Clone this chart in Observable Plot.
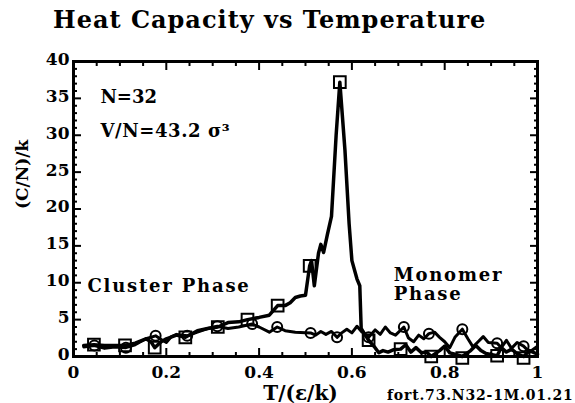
<!DOCTYPE html>
<html><head><meta charset="utf-8">
<script src="https://cdn.jsdelivr.net/npm/d3@7"></script>
<script src="https://cdn.jsdelivr.net/npm/@observablehq/plot@0.6"></script>
<style>
body{margin:0;background:#fff;width:575px;height:403px;overflow:hidden;position:relative;font-family:"DejaVu Serif",serif;}
#title{position:absolute;left:53px;top:8px;font-size:24px;font-weight:bold;line-height:24px;letter-spacing:1px;white-space:nowrap;color:#000;}
#chart{position:absolute;left:0;top:45px;}
</style></head><body>
<div id="title"></div>
<div id="chart"></div>
<script>
// ---- text ----
const titleText = "Heat Capacity vs Temperature";
const xTitle = "T/(ε/k)";
const yTitle = "(C/N)/k";
const captionText = "fort.73.N32-1M.01.21";

// ---- ticks ----
const xTicks = [0, 0.2, 0.4, 0.6, 0.8, 1];
const xTickLabels = ["0", "0.2", "0.4", "0.6", "0.8", "1"];
const xMinorTicks = [0.05,0.1,0.15,0.25,0.3,0.35,0.45,0.5,0.55,0.65,0.7,0.75,0.85,0.9,0.95];
const yTicks = [0, 5, 10, 15, 20, 25, 30, 35, 40];
const yTickLabels = ["0", "5", "10", "15", "20", "25", "30", "35", "40"];
const yMinorTicks = [1,2,3,4,6,7,8,9,11,12,13,14,16,17,18,19,21,22,23,24,26,27,28,29,31,32,33,34,36,37,38,39];

// ---- series 1 (squares) ----
const sqT = [0.022,0.044,0.067,0.089,0.111,0.133,0.156,0.167,0.175,0.189,0.2,0.222,0.241,0.267,0.289,0.311,0.333,0.356,0.375,0.4,0.422,0.44,0.456,0.467,0.478,0.489,0.5,0.506,0.509,0.513,0.519,0.528,0.533,0.539,0.547,0.556,0.566,0.574,0.585,0.594,0.6,0.611,0.617,0.62,0.628,0.636,0.65,0.658,0.667,0.678,0.689,0.705,0.716,0.727,0.738,0.75,0.761,0.771,0.789,0.8,0.811,0.822,0.838,0.856,0.867,0.878,0.889,0.913,0.922,0.933,0.944,0.956,0.97,0.983,1.0];
const sqC = [1.5,1.6,1.5,1.5,1.5,1.8,2.4,2.0,1.2,2.0,2.4,2.9,2.6,3.5,3.8,4.0,4.6,4.7,5.0,5.3,5.6,6.9,6.9,7.3,8.0,8.2,8.3,11,12.3,13.0,9.6,14.0,15.2,14.1,16.5,19,30,37.2,28,18,13,10.5,9.6,3.8,3.0,2.2,1.2,0.5,0.8,0.6,0.9,1.0,1.6,0.6,1.2,0.5,0.6,0.0,0.8,1.4,0.5,0.3,0.0,0.8,1.5,0.8,0.4,0.1,1.2,0.6,1.0,0.4,0.0,0.8,0.3];
const sqMarkT = [0.044,0.111,0.175,0.241,0.311,0.375,0.44,0.509,0.574,0.636,0.705,0.771,0.838,0.913,0.97];
const sqMarkC = [1.6,1.5,1.2,2.6,4.0,5.0,6.9,12.3,37.2,2.2,1.0,0.0,-0.2,0.1,-0.2];

// ---- series 2 (circles) ----
const ciT = [0.022,0.045,0.067,0.089,0.113,0.133,0.156,0.177,0.189,0.2,0.211,0.222,0.245,0.267,0.289,0.31,0.333,0.356,0.385,0.4,0.422,0.439,0.456,0.478,0.511,0.522,0.533,0.544,0.556,0.568,0.578,0.589,0.6,0.611,0.622,0.636,0.65,0.661,0.672,0.683,0.694,0.712,0.722,0.733,0.744,0.755,0.766,0.778,0.789,0.8,0.811,0.822,0.838,0.85,0.861,0.872,0.883,0.894,0.913,0.922,0.933,0.944,0.956,0.97,0.983,1.0];
const ciC = [1.3,1.5,1.1,1.3,1.2,1.6,2.4,2.8,2.3,1.9,2.7,3.0,2.8,3.3,3.8,4.1,3.8,4.0,4.4,4.0,3.3,4.0,3.5,3.3,3.2,2.9,3.4,3.0,3.4,2.6,3.2,3.7,3.2,4.1,3.3,2.6,3.6,3.0,4.0,3.2,2.9,4.0,2.5,2.0,2.9,2.4,3.1,3.3,2.6,2.0,1.2,2.6,3.7,2.4,1.3,2.0,2.7,1.9,1.8,1.2,2.2,1.1,1.9,1.4,0.6,1.4];
const ciMarkT = [0.045,0.113,0.177,0.245,0.31,0.385,0.439,0.511,0.568,0.636,0.712,0.766,0.838,0.913,0.97];
const ciMarkC = [1.5,1.2,2.8,2.8,4.1,4.4,4.0,3.2,2.6,2.6,4.0,3.1,3.7,1.8,1.4];

// ---- annotations ----
const annoText = ["N=32", "V/N=43.2 σ³", "Cluster Phase", "Monomer", "Phase"];
const annoT = [0.058, 0.058, 0.030, 0.690, 0.690];
const annoC = [34.4, 29.8, 8.7, 10.3, 7.6];

const zip = (a, b) => a.map((t, i) => ({T: t, C: b[i]}));
const sqLine = zip(sqT, sqC), sqMarks = zip(sqMarkT, sqMarkC);
const ciLine = zip(ciT, ciC), ciMarks = zip(ciMarkT, ciMarkC);
const annos = annoText.map((s, i) => ({s, T: annoT[i], C: annoC[i]}));

document.getElementById("title").textContent = titleText;

const xFmt = d => xTickLabels[xTicks.indexOf(d)];
const yFmt = d => yTickLabels[yTicks.indexOf(d)];
const noText = () => "";

const chart = Plot.plot({
  width: 575, height: 358,
  marginTop: 16, marginBottom: 47, marginLeft: 73, marginRight: 38,
  x: {domain: [0, 1]},
  y: {domain: [0, 40]},
  style: {fontFamily: "DejaVu Serif", fontWeight: "bold", fontSize: "16px", color: "black", background: "white", overflow: "visible"},
  marks: [
    // inward ticks, all four sides
    Plot.axisX(xMinorTicks, {anchor: "bottom", tickSize: -4, strokeWidth: 2, tickFormat: noText, label: null}),
    Plot.axisX(xTicks, {anchor: "bottom", tickSize: -8, strokeWidth: 2, tickFormat: noText, label: null}),
    Plot.axisX(xMinorTicks, {anchor: "top", tickSize: -4, strokeWidth: 2, tickFormat: noText, label: null}),
    Plot.axisX(xTicks, {anchor: "top", tickSize: -8, strokeWidth: 2, tickFormat: noText, label: null}),
    Plot.axisY(yMinorTicks, {anchor: "left", tickSize: -4, strokeWidth: 2, tickFormat: noText, label: null}),
    Plot.axisY(yTicks, {anchor: "left", tickSize: -8, strokeWidth: 2, tickFormat: noText, label: null}),
    Plot.axisY(yMinorTicks, {anchor: "right", tickSize: -4, strokeWidth: 2, tickFormat: noText, label: null}),
    Plot.axisY(yTicks, {anchor: "right", tickSize: -8, strokeWidth: 2, tickFormat: noText, label: null}),
    // tick labels
    Plot.axisX(xTicks, {anchor: "bottom", tickSize: 0, tickPadding: 9, tickFormat: xFmt, label: null, fontSize: 17}),
    Plot.axisY(yTicks, {anchor: "left", tickSize: 0, tickPadding: 4, dy: -2, tickFormat: yFmt, label: null, fontSize: 17}),
    // axis titles & caption
    Plot.text([xTitle], {frameAnchor: "bottom", dx: -5, dy: 43, lineAnchor: "bottom", fontSize: 20}),
    Plot.text([yTitle], {frameAnchor: "left", dx: -51, rotate: -90, fontSize: 17}),
    Plot.text([captionText], {frameAnchor: "bottom-right", dx: 36, dy: 43, textAnchor: "end", lineAnchor: "bottom", fontSize: 14}),
    // data
    Plot.line(ciLine, {x: "T", y: "C", stroke: "black", strokeWidth: 3, strokeLinejoin: "round"}),
    Plot.line(sqLine, {x: "T", y: "C", stroke: "black", strokeWidth: 3.5, strokeLinejoin: "round"}),
    Plot.dot(ciMarks, {x: "T", y: "C", r: 5, stroke: "black", strokeWidth: 2, fill: "none"}),
    Plot.dot(sqMarks, {x: "T", y: "C", symbol: "square", r: 6.6, stroke: "black", strokeWidth: 2, fill: "none"}),
    // annotations
    Plot.text(annos, {x: "T", y: "C", text: "s", textAnchor: "start", lineAnchor: "bottom", fontSize: 18}),
    Plot.frame({stroke: "black", strokeWidth: 3})
  ]
});
document.getElementById("chart").appendChild(chart);
// widen the lettering a little to match the reference's Century-style face
d3.select(chart).selectAll("text").each(function () {
  const t = this.textContent;
  if (t === "Cluster Phase" || t === "Monomer" || t === "Phase") this.setAttribute("letter-spacing", "1.8px");
  else if (t === "V/N=43.2 σ³") this.setAttribute("letter-spacing", "0.6px");
  else if (t === captionText) this.setAttribute("letter-spacing", "0.8px");
});
</script>
</body></html>
